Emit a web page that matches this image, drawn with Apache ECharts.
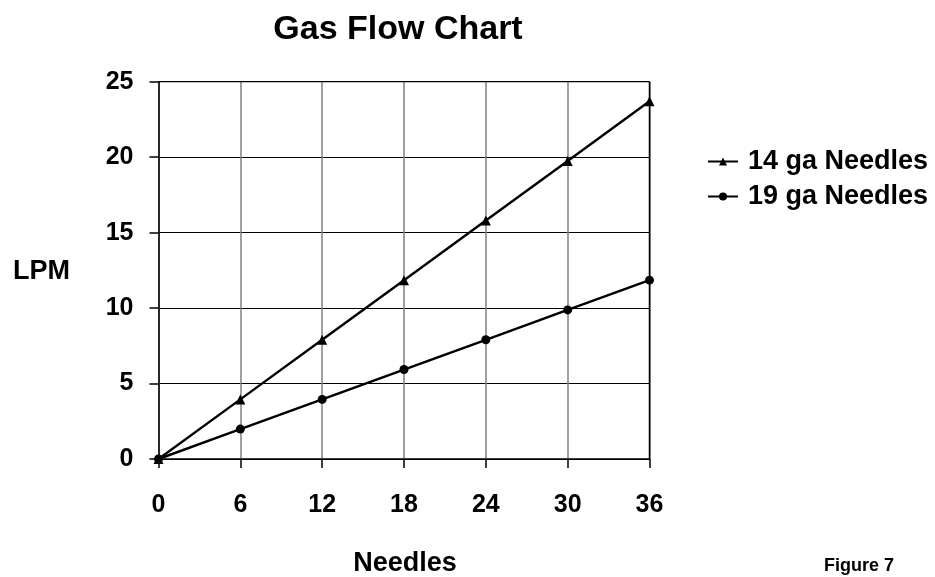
<!DOCTYPE html>
<html>
<head>
<meta charset="utf-8">
<script src="https://cdn.jsdelivr.net/npm/echarts@6/dist/echarts.min.js"></script>
<style>html,body{margin:0;padding:0;background:#fff;}#c{width:935px;height:577px;}</style>
</head>
<body>
<div id="c"></div>
<script>
var needles = [0, 6, 12, 18, 24, 30, 36];
var ga14 = [0, 3.95, 7.9, 11.85, 15.8, 19.75, 23.7];
var ga19 = [0, 1.98, 3.95, 5.93, 7.9, 9.88, 11.85];
var seriesNames = ['14 ga Needles', '19 ga Needles'];

var FONT = 'Liberation Sans, Arial, sans-serif';
var chart = echarts.init(document.getElementById('c'), null, {renderer: 'canvas'});
function pairs(xs, ys) { return xs.map(function (x, i) { return [x, ys[i]]; }); }
chart.setOption({
  animation: false,
  backgroundColor: '#fff',
  title: [
    {text: 'Gas Flow Chart', left: 398, top: 13, padding: 0, textAlign: 'center',
     textStyle: {fontFamily: FONT, fontWeight: 'bold', fontSize: 34, color: '#000'}},
    {text: 'LPM', left: 13, top: 258, padding: 0,
     textStyle: {fontFamily: FONT, fontWeight: 'bold', fontSize: 27, color: '#000'}},
    {text: 'Needles', left: 405, top: 550, padding: 0, textAlign: 'center',
     textStyle: {fontFamily: FONT, fontWeight: 'bold', fontSize: 27, color: '#000'}},
    {text: 'Figure 7', left: 859, top: 557, padding: 0, textAlign: 'center',
     textStyle: {fontFamily: FONT, fontWeight: 'bold', fontSize: 18, color: '#000'}}
  ],
  legend: {
    orient: 'vertical', left: 707, top: 148, padding: 0, itemWidth: 30, itemHeight: 10, itemGap: 8,
    textStyle: {fontFamily: FONT, fontWeight: 'bold', fontSize: 27, color: '#000', padding: [0, 0, 0, 5]},
    data: seriesNames
  },
  grid: {left: 158.5, right: 935 - 649.5, top: 81.7, bottom: 577 - 459, containLabel: false},
  xAxis: {
    type: 'value', min: 0, max: 36, interval: 6,
    axisLine: {show: true, lineStyle: {color: '#000', width: 1.5}},
    axisTick: {show: true, length: 9, lineStyle: {color: '#000', width: 1.5}},
    axisLabel: {margin: 34, fontFamily: FONT, fontWeight: 'bold', fontSize: 25, color: '#000'},
    splitLine: {show: true, lineStyle: {color: '#808080', width: 1.5}}
  },
  yAxis: {
    type: 'value', min: 0, max: 25, interval: 5,
    axisLine: {show: true, lineStyle: {color: '#000', width: 1.5}},
    axisTick: {show: true, length: 9, lineStyle: {color: '#000', width: 1.5}},
    axisLabel: {margin: 25, fontFamily: FONT, fontWeight: 'bold', fontSize: 25, color: '#000'},
    splitLine: {show: true, lineStyle: {color: '#000', width: 1.2}}
  },
  series: [
    {name: seriesNames[0], type: 'line', data: pairs(needles, ga14),
     symbol: 'triangle', symbolSize: 10, showAllSymbol: true,
     lineStyle: {color: '#000', width: 2.4}, itemStyle: {color: '#000', borderWidth: 0}},
    {name: seriesNames[1], type: 'line', data: pairs(needles, ga19),
     symbol: 'circle', symbolSize: 9, showAllSymbol: true,
     lineStyle: {color: '#000', width: 2.4}, itemStyle: {color: '#000', borderWidth: 0}}
  ],
  graphic: [
    {type: 'line', shape: {x1: 649.5, y1: 81.7, x2: 649.5, y2: 459}, style: {stroke: '#000', lineWidth: 1.5}, z: 1},
    {type: 'line', shape: {x1: 158.5, y1: 81.7, x2: 649.5, y2: 81.7}, style: {stroke: '#000', lineWidth: 1.2}, z: 1}
  ]
});
</script>
</body>
</html>
